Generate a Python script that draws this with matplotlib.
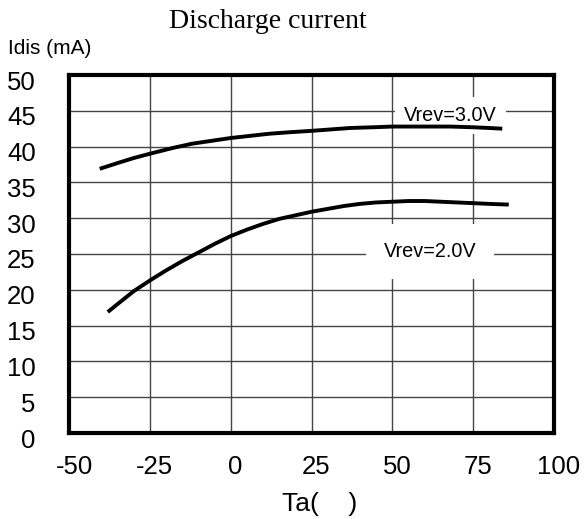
import matplotlib
matplotlib.use("Agg")
import matplotlib.pyplot as plt
import matplotlib.transforms as mtransforms

# Data
t_30 = [-40.5, -35, -30, -25, -18, -12, -6, 0, 6, 12, 18, 25, 31, 37, 44, 50, 56, 62, 68, 75, 80, 84]
i_30 = [36.9, 37.7, 38.4, 39.0, 39.8, 40.4, 40.8, 41.2, 41.5, 41.8, 42.0, 42.2, 42.4, 42.6, 42.7, 42.8, 42.8, 42.8, 42.8, 42.7, 42.6, 42.5]

t_20 = [-38, -35, -30, -25, -20, -15, -10, -5, 0, 5, 10, 15, 20, 25, 30, 35, 40, 45, 50, 55, 60, 65, 70, 75, 80, 86]
i_20 = [16.9, 18.0, 19.8, 21.3, 22.7, 24.0, 25.2, 26.4, 27.5, 28.4, 29.2, 29.9, 30.4, 30.9, 31.3, 31.7, 32.0, 32.2, 32.3, 32.4, 32.4, 32.3, 32.2, 32.1, 32.0, 31.9]

x_ticks = [-50, -25, 0, 25, 50, 75, 100]
y_ticks = [0, 5, 10, 15, 20, 25, 30, 35, 40, 45, 50]

fig = plt.figure(figsize=(5.84, 5.19), dpi=100)
ax = fig.add_axes([69/584, 1 - 433/519, (554 - 69)/584, (433 - 75)/519])

ax.set_xlim(-50, 100)
ax.set_ylim(0, 50)
ax.set_xticks(x_ticks)
ax.set_yticks(y_ticks)
ax.set_xticklabels([str(v) for v in x_ticks], fontsize=18.5, family="Liberation Sans")
ax.set_yticklabels([str(v) for v in y_ticks], fontsize=18.5, family="Liberation Sans")
ax.tick_params(axis="both", length=0)
ax.tick_params(axis="y", pad=24)
ax.tick_params(axis="x", pad=16)

dy = mtransforms.ScaledTranslation(0, -5/100, fig.dpi_scale_trans)
for lab in ax.get_yticklabels():
    lab.set_transform(lab.get_transform() + dy)
dx = mtransforms.ScaledTranslation(5/100, 0, fig.dpi_scale_trans)
for lab in ax.get_xticklabels():
    lab.set_transform(lab.get_transform() + dx)

ax.grid(True, color="#444444", linewidth=1.0)
ax.set_axisbelow(True)
for s in ax.spines.values():
    s.set_linewidth(3.0)
    s.set_color("black")

ax.plot(t_30, i_30, color="black", linewidth=2.8, solid_capstyle="butt", zorder=5)
ax.plot(t_20, i_20, color="black", linewidth=2.8, solid_capstyle="butt", zorder=5)

ax.text(68, 44.4, "Vrev=3.0V", fontsize=14.3, family="Liberation Sans",
        ha="center", va="center", zorder=4,
        bbox=dict(boxstyle="square,pad=0.45", facecolor="white", edgecolor="none"))
ax.text(61.7, 25.4, "Vrev=2.0V", fontsize=14.3, family="Liberation Sans",
        ha="center", va="center", zorder=4,
        bbox=dict(boxstyle="square,pad=0.9", facecolor="white", edgecolor="none"))

fig.text(268/584, 1 - 22/519, "Discharge current", fontsize=20, family="Liberation Serif",
         ha="center", va="center")
fig.text(8/584, 1 - 49/519, "Idis (mA)", fontsize=15, family="Liberation Sans",
         ha="left", va="center")
fig.text(320/584, 1 - 504/519, "Ta(    )", fontsize=19, family="Liberation Sans",
         ha="center", va="center")

fig.savefig("out.png", dpi=100, facecolor="white")
